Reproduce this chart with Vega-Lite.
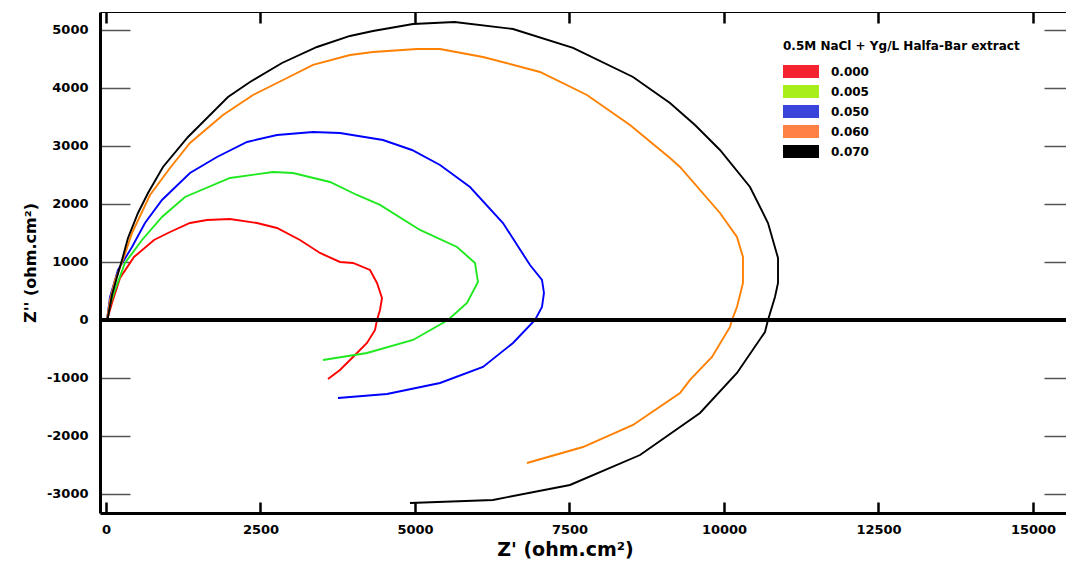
{
  "$schema": "https://vega.github.io/schema/vega-lite/v6.json",
  "width": 966,
  "height": 501,
  "autosize": {"type": "none"},
  "padding": {"left": 100, "top": 12, "right": 0, "bottom": 49},
  "background": "white",
  "data": {"values": [
    {"c":"0.000","i":0,"x":16,"y":0},{"c":"0.000","i":1,"x":32,"y":52},{"c":"0.000","i":2,"x":97,"y":293},{"c":"0.000","i":3,"x":227,"y":724},{"c":"0.000","i":4,"x":453,"y":1086},{"c":"0.000","i":5,"x":777,"y":1379},{"c":"0.000","i":6,"x":1036,"y":1517},{"c":"0.000","i":7,"x":1359,"y":1672},{"c":"0.000","i":8,"x":1634,"y":1724},{"c":"0.000","i":9,"x":2006,"y":1741},{"c":"0.000","i":10,"x":2443,"y":1672},{"c":"0.000","i":11,"x":2767,"y":1586},{"c":"0.000","i":12,"x":3139,"y":1379},{"c":"0.000","i":13,"x":3463,"y":1155},{"c":"0.000","i":14,"x":3786,"y":1000},{"c":"0.000","i":15,"x":3997,"y":983},{"c":"0.000","i":16,"x":4272,"y":862},{"c":"0.000","i":17,"x":4385,"y":638},{"c":"0.000","i":18,"x":4466,"y":379},{"c":"0.000","i":19,"x":4434,"y":172},{"c":"0.000","i":20,"x":4385,"y":0},{"c":"0.000","i":21,"x":4353,"y":-172},{"c":"0.000","i":22,"x":4223,"y":-397},{"c":"0.000","i":23,"x":3997,"y":-638},{"c":"0.000","i":24,"x":3786,"y":-862},{"c":"0.000","i":25,"x":3592,"y":-1017},
    {"c":"0.005","i":0,"x":16,"y":0},{"c":"0.005","i":1,"x":65,"y":259},{"c":"0.005","i":2,"x":146,"y":517},{"c":"0.005","i":3,"x":307,"y":983},{"c":"0.005","i":4,"x":583,"y":1379},{"c":"0.005","i":5,"x":906,"y":1776},{"c":"0.005","i":6,"x":1278,"y":2121},{"c":"0.005","i":7,"x":2006,"y":2448},{"c":"0.005","i":8,"x":2702,"y":2552},{"c":"0.005","i":9,"x":3026,"y":2534},{"c":"0.005","i":10,"x":3625,"y":2379},{"c":"0.005","i":11,"x":4061,"y":2155},{"c":"0.005","i":12,"x":4434,"y":1983},{"c":"0.005","i":13,"x":5081,"y":1552},{"c":"0.005","i":14,"x":5680,"y":1259},{"c":"0.005","i":15,"x":5971,"y":983},{"c":"0.005","i":16,"x":6019,"y":655},{"c":"0.005","i":17,"x":5841,"y":293},{"c":"0.005","i":18,"x":5534,"y":0},{"c":"0.005","i":19,"x":4968,"y":-345},{"c":"0.005","i":20,"x":4223,"y":-569},{"c":"0.005","i":21,"x":3511,"y":-690},
    {"c":"0.050","i":0,"x":16,"y":0},{"c":"0.050","i":1,"x":65,"y":397},{"c":"0.050","i":2,"x":194,"y":862},{"c":"0.050","i":3,"x":421,"y":1259},{"c":"0.050","i":4,"x":631,"y":1672},{"c":"0.050","i":5,"x":906,"y":2069},{"c":"0.050","i":6,"x":1359,"y":2534},{"c":"0.050","i":7,"x":1796,"y":2810},{"c":"0.050","i":8,"x":2282,"y":3069},{"c":"0.050","i":9,"x":2767,"y":3190},{"c":"0.050","i":10,"x":3350,"y":3241},{"c":"0.050","i":11,"x":3786,"y":3224},{"c":"0.050","i":12,"x":4482,"y":3103},{"c":"0.050","i":13,"x":4951,"y":2931},{"c":"0.050","i":14,"x":5405,"y":2672},{"c":"0.050","i":15,"x":5890,"y":2293},{"c":"0.050","i":16,"x":6424,"y":1672},{"c":"0.050","i":17,"x":6861,"y":948},{"c":"0.050","i":18,"x":7055,"y":690},{"c":"0.050","i":19,"x":7087,"y":466},{"c":"0.050","i":20,"x":7055,"y":224},{"c":"0.050","i":21,"x":6942,"y":0},{"c":"0.050","i":22,"x":6586,"y":-397},{"c":"0.050","i":23,"x":6100,"y":-810},{"c":"0.050","i":24,"x":5405,"y":-1086},{"c":"0.050","i":25,"x":4547,"y":-1276},{"c":"0.050","i":26,"x":3754,"y":-1345},
    {"c":"0.060","i":0,"x":16,"y":0},{"c":"0.060","i":1,"x":65,"y":345},{"c":"0.060","i":2,"x":146,"y":690},{"c":"0.060","i":3,"x":275,"y":1034},{"c":"0.060","i":4,"x":421,"y":1500},{"c":"0.060","i":5,"x":712,"y":2155},{"c":"0.060","i":6,"x":1036,"y":2621},{"c":"0.060","i":7,"x":1359,"y":3052},{"c":"0.060","i":8,"x":1893,"y":3534},{"c":"0.060","i":9,"x":2379,"y":3879},{"c":"0.060","i":10,"x":2929,"y":4172},{"c":"0.060","i":11,"x":3350,"y":4397},{"c":"0.060","i":12,"x":3948,"y":4569},{"c":"0.060","i":13,"x":4320,"y":4621},{"c":"0.060","i":14,"x":5032,"y":4672},{"c":"0.060","i":15,"x":5405,"y":4672},{"c":"0.060","i":16,"x":6100,"y":4534},{"c":"0.060","i":17,"x":7023,"y":4276},{"c":"0.060","i":18,"x":7783,"y":3879},{"c":"0.060","i":19,"x":8479,"y":3362},{"c":"0.060","i":20,"x":9126,"y":2793},{"c":"0.060","i":21,"x":9288,"y":2638},{"c":"0.060","i":22,"x":9935,"y":1845},{"c":"0.060","i":23,"x":10210,"y":1431},{"c":"0.060","i":24,"x":10307,"y":1086},{"c":"0.060","i":25,"x":10307,"y":638},{"c":"0.060","i":26,"x":10210,"y":224},{"c":"0.060","i":27,"x":10129,"y":0},{"c":"0.060","i":28,"x":10097,"y":-121},{"c":"0.060","i":29,"x":9806,"y":-638},{"c":"0.060","i":30,"x":9450,"y":-1034},{"c":"0.060","i":31,"x":9288,"y":-1259},{"c":"0.060","i":32,"x":8528,"y":-1810},{"c":"0.060","i":33,"x":7718,"y":-2190},{"c":"0.060","i":34,"x":6812,"y":-2466},
    {"c":"0.070","i":0,"x":16,"y":0},{"c":"0.070","i":1,"x":32,"y":52},{"c":"0.070","i":2,"x":97,"y":431},{"c":"0.070","i":3,"x":178,"y":741},{"c":"0.070","i":4,"x":259,"y":1034},{"c":"0.070","i":5,"x":356,"y":1414},{"c":"0.070","i":6,"x":518,"y":1845},{"c":"0.070","i":7,"x":680,"y":2190},{"c":"0.070","i":8,"x":922,"y":2638},{"c":"0.070","i":9,"x":1327,"y":3155},{"c":"0.070","i":10,"x":1521,"y":3362},{"c":"0.070","i":11,"x":1974,"y":3845},{"c":"0.070","i":12,"x":2330,"y":4103},{"c":"0.070","i":13,"x":2848,"y":4431},{"c":"0.070","i":14,"x":3414,"y":4707},{"c":"0.070","i":15,"x":3948,"y":4897},{"c":"0.070","i":16,"x":4320,"y":4983},{"c":"0.070","i":17,"x":4968,"y":5103},{"c":"0.070","i":18,"x":5640,"y":5138},{"c":"0.070","i":19,"x":6586,"y":5017},{"c":"0.070","i":20,"x":7557,"y":4690},{"c":"0.070","i":21,"x":8528,"y":4190},{"c":"0.070","i":22,"x":9126,"y":3741},{"c":"0.070","i":23,"x":9531,"y":3362},{"c":"0.070","i":24,"x":9935,"y":2931},{"c":"0.070","i":25,"x":10421,"y":2293},{"c":"0.070","i":26,"x":10712,"y":1672},{"c":"0.070","i":27,"x":10874,"y":1069},{"c":"0.070","i":28,"x":10874,"y":638},{"c":"0.070","i":29,"x":10825,"y":397},{"c":"0.070","i":30,"x":10712,"y":0},{"c":"0.070","i":31,"x":10663,"y":-207},{"c":"0.070","i":32,"x":10210,"y":-914},{"c":"0.070","i":33,"x":9612,"y":-1603},{"c":"0.070","i":34,"x":8641,"y":-2328},{"c":"0.070","i":35,"x":7508,"y":-2845},{"c":"0.070","i":36,"x":6262,"y":-3103},{"c":"0.070","i":37,"x":4919,"y":-3155}
  ]},
  "layer": [
    {
      "mark": {"type": "line", "strokeWidth": 1.9, "clip": true},
      "encoding": {
        "x": {"field": "x", "type": "quantitative",
          "scale": {"domain": [-97, 15534], "nice": false, "zero": false},
          "axis": {"orient": "bottom", "values": [0, 2500, 5000, 7500, 10000, 12500, 15000], "format": "d",
            "tickSize": -11, "tickWidth": 2.5, "tickColor": "black",
            "domainWidth": 3, "domainColor": "black", "labelPadding": 21,
            "title": "Z' (ohm.cm²)", "titleFontSize": 19, "titlePadding": 4, "titleX": 465}},
        "y": {"field": "y", "type": "quantitative",
          "scale": {"domain": [-3328, 5310], "nice": false, "zero": false},
          "axis": {"orient": "left", "values": [-3000, -2000, -1000, 0, 1000, 2000, 3000, 4000, 5000],
            "labelExpr": "datum.value < 0 ? '-' + (-datum.value) : '' + datum.value",
            "tickSize": -30, "tickWidth": 1.5, "tickColor": "#555555",
            "domainWidth": 3, "domainColor": "black", "labelPadding": 42,
            "title": "Z'' (ohm.cm²)", "titleFontSize": 16, "titlePadding": 8}},
        "color": {"field": "c", "type": "nominal",
          "scale": {"range": ["#ff0000", "#1fe81f", "#0000ff", "#ff8000", "#000000"]},
          "legend": null},
        "order": {"field": "i", "type": "quantitative"}
      }
    },
    {
      "mark": {"type": "point", "filled": true, "opacity": 0},
      "encoding": {
        "x": {"field": "x", "type": "quantitative",
          "axis": {"orient": "top", "values": [0, 2500, 5000, 7500, 10000, 12500, 15000],
            "labels": false, "tickSize": -11, "tickWidth": 2.5, "tickColor": "black",
            "domainWidth": 1, "domainColor": "black", "title": null}},
        "y": {"field": "y", "type": "quantitative",
          "axis": {"orient": "right", "values": [-3000, -2000, -1000, 0, 1000, 2000, 3000, 4000, 5000],
            "labels": false, "tickSize": -22, "tickWidth": 1.5, "tickColor": "#555555",
            "domain": false, "title": null}},
        "fill": {"field": "c", "type": "nominal",
          "scale": {"domain": ["0.000", "0.005", "0.050", "0.060", "0.070"],
            "range": ["#f5222f", "#a8ee1a", "#3a44da", "#ff8145", "#000000"]},
          "legend": {"title": "0.5M NaCl + Yg/L Halfa-Bar extract", "orient": "none",
            "legendX": 683, "legendY": 29, "padding": 0, "titleLimit": 500,
            "titleFont": "DejaVu Sans", "titleFontWeight": "bold", "titleFontSize": 12, "titleColor": "black", "titlePadding": 12,
            "labelFont": "DejaVu Sans", "labelFontWeight": "bold", "labelFontSize": 12, "labelColor": "black", "labelOffset": 35,
            "symbolType": "M-1,-1H4.54V1H-1Z", "symbolSize": 169, "symbolOpacity": 1, "symbolStrokeWidth": 0, "rowPadding": 7}}
      }
    },
    {
      "mark": {"type": "rule", "strokeWidth": 3, "color": "black"},
      "encoding": {"y": {"datum": 0, "type": "quantitative", "axis": null}}
    }
  ],
  "resolve": {"axis": {"x": "independent", "y": "independent"}},
  "config": {
    "view": {"stroke": null},
    "font": "DejaVu Sans",
    "axis": {"labelFont": "DejaVu Sans", "labelFontWeight": "bold", "labelFontSize": 13, "labelColor": "black",
      "titleFont": "DejaVu Sans", "titleFontWeight": "bold", "titleColor": "black", "grid": false}
  }
}
